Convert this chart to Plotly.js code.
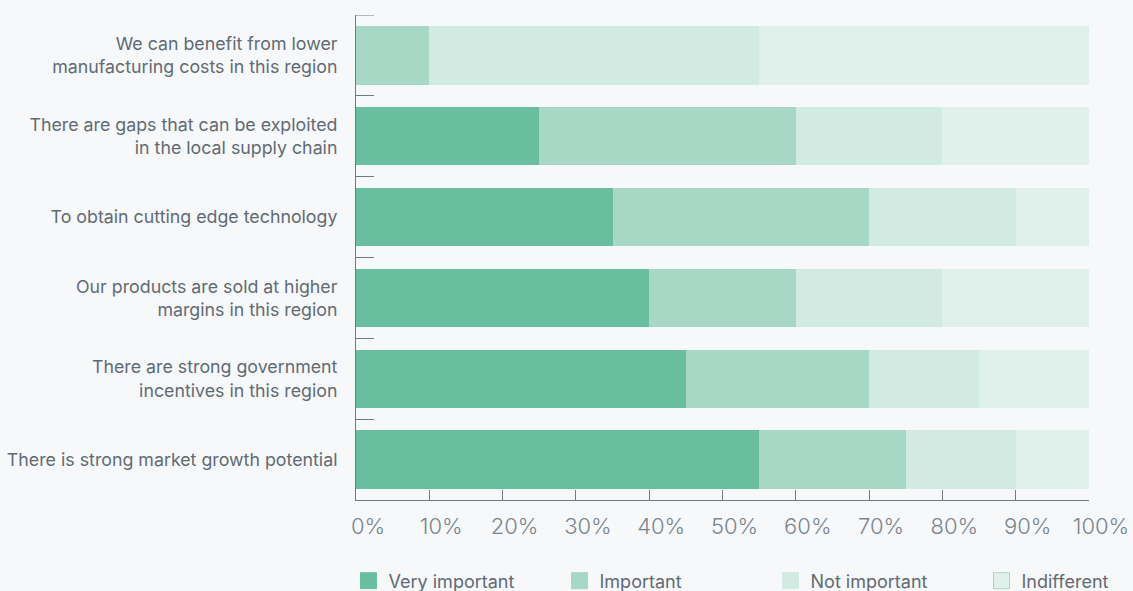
<!DOCTYPE html>
<html>
<head>
<meta charset="utf-8">
<script src="https://cdn.plot.ly/plotly-3.0.1.min.js"></script>
<style>
html,body{margin:0;padding:0;background:#f7f8fa;}
#chart{width:1133px;height:591px;}
</style>
</head>
<body>
<div id="chart"></div>
<script>
var categories = [
  "We can benefit from lower<br>manufacturing costs in this region",
  "There are gaps that can be exploited<br>in the local supply chain",
  "To obtain cutting edge technology",
  "Our products are sold at higher<br>margins in this region",
  "There are strong government<br>incentives in this region",
  "There is strong market growth potential"
];
var veryImportant = [0, 25, 35, 40, 45, 55];
var important     = [10, 35, 35, 20, 25, 20];
var notImportant  = [45, 20, 20, 20, 15, 15];
var indifferent   = [45, 20, 10, 20, 15, 10];
var seriesNames = ["Very important", "Important", "Not important", "Indifferent"];
var xTickVals = [0,10,20,30,40,50,60,70,80,90,100];
var xTickText = ["0%","10%","20%","30%","40%","50%","60%","70%","80%","90%","100%"];

var colors = ["#69be9f", "#a7d7c5", "#d2ebe2", "#e0f1eb"];
var legendLines = ["#69be9f", "#a7d7c5", "#d2ebe2", "#a7d7c5"];
var series = [veryImportant, important, notImportant, indifferent];

var traces = series.map(function(vals, i){
  return {
    type: "bar",
    orientation: "h",
    name: seriesNames[i],
    legendgroup: seriesNames[i],
    showlegend: false,
    x: vals,
    y: categories,
    marker: {color: colors[i]},
    hoverinfo: "x+name"
  };
});
// legend-only entries (larger square swatches)
seriesNames.forEach(function(n, i){
  traces.push({
    type: "scatter",
    mode: "markers",
    name: n,
    legendgroup: n,
    showlegend: true,
    x: [null],
    y: [null],
    marker: {symbol: "square", size: 16, color: colors[i], line: {width: 1, color: legendLines[i]}},
    hoverinfo: "skip"
  });
});

var gray = "#6f7b83";
var layout = {
  width: 1133, height: 591,
  paper_bgcolor: "#f7f8fa",
  plot_bgcolor: "#f7f8fa",
  barmode: "stack",
  bargap: 0.28,
  margin: {l: 356, r: 44, t: 15, b: 91, autoexpand: false},
  font: {family: "Inter, 'Noto Sans', sans-serif", color: gray},
  xaxis: {
    range: [0, 100],
    tickmode: "array",
    tickvals: xTickVals,
    ticktext: xTickText,
    showgrid: false,
    zeroline: false,
    showline: true,
    linecolor: gray,
    linewidth: 1,
    ticks: "inside",
    ticklen: 10,
    tickcolor: gray,
    tickfont: {size: 22, color: "#7a868e", weight: 300},
    ticklabelstandoff: 7,
    ticklabelshift: 12
  },
  yaxis: {
    type: "category",
    range: [5.5, -0.5],
    showgrid: false,
    zeroline: false,
    showline: true,
    linecolor: gray,
    linewidth: 1,
    ticks: "inside",
    tickson: "boundaries",
    ticklen: 18,
    tickcolor: gray,
    tickfont: {size: 17.8, color: "#5f6b73"},
    ticklabelstandoff: 14
  },
  shapes: [{
    type: "line", xref: "paper", yref: "y",
    x0: 0, x1: 0.0246, y0: -0.5, y1: -0.5,
    line: {color: gray, width: 1}
  }],
  showlegend: true,
  legend: {
    orientation: "h",
    xref: "paper", yref: "paper",
    x: -0.0102, xanchor: "left",
    y: -0.167, yanchor: "middle",
    traceorder: "normal",
    entrywidth: 166,
    entrywidthmode: "pixels",
    font: {size: 18, color: "#5f6b73"},
    bgcolor: "rgba(0,0,0,0)"
  }
};

Plotly.newPlot("chart", traces, layout, {displayModeBar: false, staticPlot: true});
</script>
</body>
</html>
